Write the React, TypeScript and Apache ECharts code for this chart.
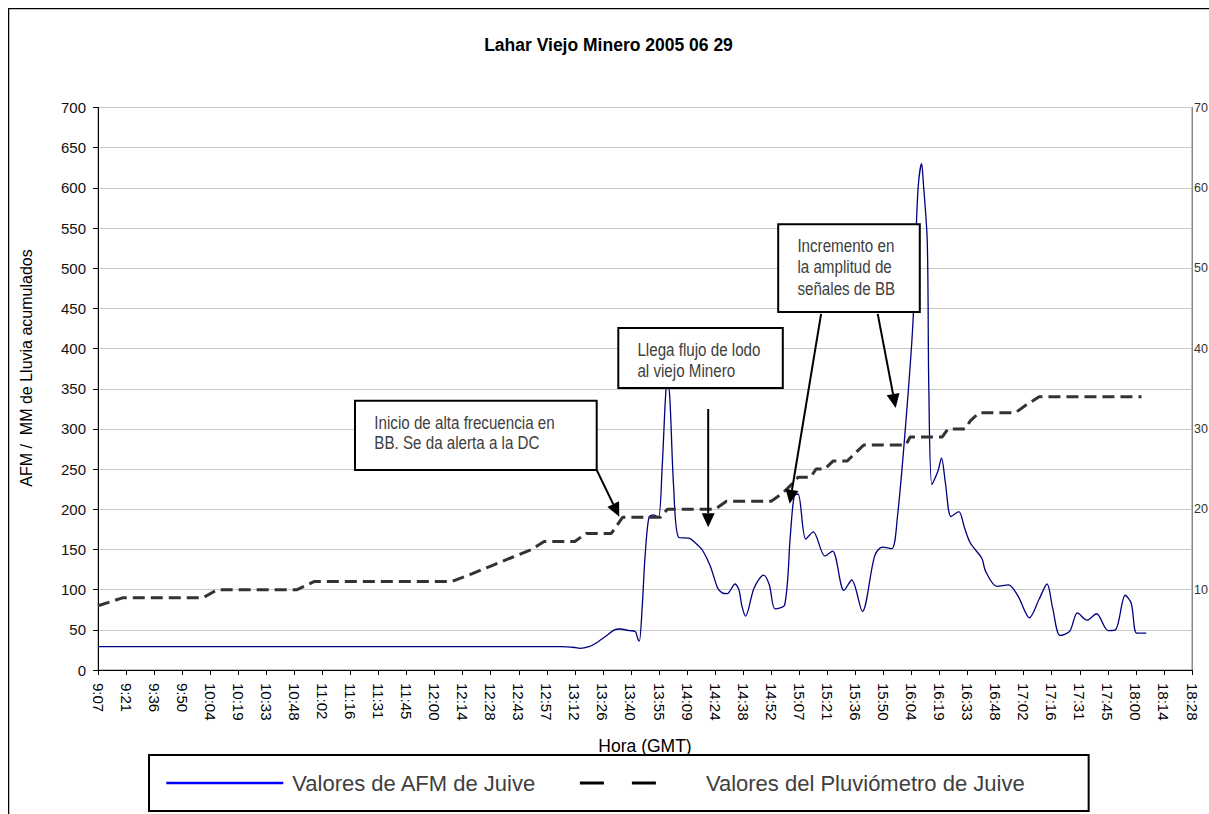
import React, { useEffect, useRef } from "react";
import * as echarts from "echarts";

// ---------- data ----------
const chartTitle = "Lahar Viejo Minero 2005 06 29";
const xAxisTitle = "Hora (GMT)";
const yAxisTitle = "AFM /  MM de Lluvia acumulados";
const afmName = "Valores de AFM de Juive";
const rainName = "Valores del Pluviómetro de Juive";

// tick labels of the time axis (one every 0.01 day = 14.4 min, starting 9:07)
const timeLabels = [
  "9:07", "9:21", "9:36", "9:50", "10:04", "10:19", "10:33", "10:48", "11:02", "11:16",
  "11:31", "11:45", "12:00", "12:14", "12:28", "12:43", "12:57", "13:12", "13:26", "13:40",
  "13:55", "14:09", "14:24", "14:38", "14:52", "15:07", "15:21", "15:36", "15:50", "16:04",
  "16:19", "16:33", "16:48", "17:02", "17:16", "17:31", "17:45", "18:00", "18:14", "18:28",
];
const TICK_MINUTES = 14.4;

// AFM values (minutes after 9:07)
const afmMinutes = [
  0, 237.6, 244.8, 247.4, 252.0, 255.3, 260.6, 265.1, 267.8, 272.9,
  275.8, 277.2, 277.9, 279.4, 280.8, 282.8, 285.1, 287.7, 289.6, 291.6,
  292.6, 293.6, 295.5, 298.1, 303.4, 306.7, 310.3, 314.2, 318.1, 320.4,
  323.0, 327.0, 329.0, 330.5, 332.4, 336.8, 341.7, 344.6, 347.6, 352.5,
  355.4, 357.4, 359.4, 363.3, 367.2, 373.1, 377.1, 382.9, 386.9, 392.4,
  398.7, 402.6, 407.5, 410.4, 414.4, 418.3, 420.3, 421.3, 422.8, 423.6,
  425.7, 426.5, 428.1, 431.1, 433.0, 435.0, 437.9, 441.9, 444.8, 447.8,
  453.7, 455.6, 461.5, 467.4, 472.3, 478.2, 483.1, 487.2, 490.0, 493.9,
  498.8, 502.8, 507.7, 512.6, 518.5, 522.4, 527.3, 530.4, 533.2, 538.1,
];
const afmValues = [
  29, 29, 28, 27, 29, 33, 42, 50, 51, 49,
  48, 38, 36, 80, 140, 190, 193, 190, 252, 350,
  355, 336, 228, 165, 164, 158, 149, 130, 102, 96,
  95, 107, 100, 80, 67, 102, 118, 106, 76, 81,
  167, 217, 219, 163, 172, 142, 148, 99, 112, 73,
  142, 153, 151, 191, 299, 430, 566, 609, 630, 609,
  533, 350, 231, 247, 264, 233, 191, 197, 177, 158,
  139, 123, 104, 106, 92, 65, 88, 107, 78, 43,
  48, 71, 62, 70, 49, 50, 93, 83, 46, 46,
];

// accumulated rain (mm), minutes after 9:07
const rainMinutes = [
  0, 13.0, 54.0, 61.3, 102.2, 110.9, 181.4, 192.2, 202.3, 212.4,
  222.5, 229.0, 244.8, 250.6, 263.5, 266.4, 269.3, 288.7, 292.3, 316.8,
  322.6, 345.6, 351.4, 355.7, 359.4, 365.8, 368.6, 373.0, 377.3, 384.5,
  388.8, 393.1, 414.7, 416.9, 433.4, 436.3, 445.0, 447.8, 452.2, 470.9,
  476.6, 483.1, 535.7,
];
const rainValues = [
  8, 9, 9, 10, 10, 11, 11, 12, 13, 14,
  15, 16, 16, 17, 17, 18, 19, 19, 20, 20,
  21, 21, 22, 23, 24, 24, 25, 25, 26, 26,
  27, 28, 28, 29, 29, 30, 30, 31, 32, 32,
  33, 34, 34,
];

const notes = [
  { lines: ["Inicio de alta frecuencia en", "BB. Se da alerta a la DC"] },
  { lines: ["Llega flujo de lodo", "al viejo Minero"] },
  { lines: ["Incremento en", "la amplitud de", "señales de BB"] },
];

// ---------- styling ----------
const FONT = "'Liberation Sans', Arial, sans-serif";

function arrow(x1: number, y1: number, x2: number, y2: number) {
  const len = 14;
  const hw = 6.5;
  const dx = x2 - x1;
  const dy = y2 - y1;
  const L = Math.hypot(dx, dy);
  const ux = dx / L;
  const uy = dy / L;
  const bx = x2 - ux * len;
  const by = y2 - uy * len;
  return [
    { type: "line", shape: { x1, y1, x2: bx, y2: by }, style: { stroke: "#000", lineWidth: 2 }, z: 20 },
    {
      type: "polygon",
      shape: { points: [[x2, y2], [bx - uy * hw, by + ux * hw], [bx + uy * hw, by - ux * hw]] },
      style: { fill: "#000" },
      z: 20,
    },
  ];
}

function noteBox(x: number, y: number, w: number, h: number, tx: number, ty: number[], lines: string[]) {
  const els: any[] = [
    { type: "rect", shape: { x, y, width: w, height: h }, style: { fill: "#fff", stroke: "#000", lineWidth: 2 }, z: 20 },
  ];
  lines.forEach((t, i) => {
    els.push({
      type: "text",
      x: tx,
      y: ty[i],
      scaleX: 0.82,
      style: { text: t, fill: "#404040", fontSize: 18.5, fontFamily: FONT, verticalAlign: "middle", align: "left" },
      z: 21,
    });
  });
  return els;
}

export default function App() {
  const ref = useRef<HTMLDivElement>(null);
  useEffect(() => {
    const chart = echarts.init(ref.current!, null, { renderer: "svg" });
    const option: any = {
      animation: false,
      backgroundColor: "#fff",
      textStyle: { fontFamily: FONT },
      title: {
        text: chartTitle,
        left: "center",
        top: 23,
        textStyle: { fontSize: 17.5, fontWeight: "bold", color: "#000", fontFamily: FONT },
      },
      grid: {
        left: 90,
        right: 17,
        top: 99.5,
        bottom: 144,
        show: true,
        borderColor: "#888",
        borderWidth: 1,
        outerBoundsMode: "none",
        containLabel: false,
      },
      legend: {
        left: 141,
        top: 747,
        orient: "horizontal",
        borderColor: "#000",
        borderWidth: 2,
        borderRadius: 0,
        padding: [17, 64, 17, 16],
        itemWidth: 117,
        itemHeight: 10,
        itemGap: 42,
        itemStyle: { opacity: 0 },
        textStyle: { fontSize: 22, color: "#404040", fontFamily: FONT, padding: [0, 0, 0, 4] },
        data: [
          { name: afmName, itemStyle: { opacity: 0 }, lineStyle: { color: "#0000ff", width: 2.5, type: "solid" } },
          { name: rainName, itemStyle: { opacity: 0 }, lineStyle: { color: "#000", width: 3, type: [24, 28, 24, 100] } },
        ],
      },
      xAxis: {
        type: "value",
        min: 0,
        max: TICK_MINUTES * (timeLabels.length - 1),
        interval: TICK_MINUTES,
        name: xAxisTitle,
        nameLocation: "middle",
        nameGap: 67,
        nameTextStyle: { fontSize: 17.5, color: "#000", fontFamily: FONT },
        axisLine: { lineStyle: { color: "#000", width: 1 } },
        axisTick: { show: true, length: 5, lineStyle: { color: "#000" } },
        splitLine: { show: false },
        axisLabel: {
          rotate: -90,
          margin: 13,
          fontSize: 15,
          color: "#000",
          fontFamily: FONT,
          showMinLabel: true,
          showMaxLabel: true,
          formatter: (v: number) => timeLabels[Math.round(v / TICK_MINUTES)] ?? "",
        },
      },
      yAxis: [
        {
          type: "value",
          min: 0,
          max: 700,
          interval: 50,
          position: "left",
          axisLine: { show: true, lineStyle: { color: "#000" } },
          axisTick: { show: true, length: 5, lineStyle: { color: "#000" } },
          splitLine: { show: true, lineStyle: { color: "#c8c8c8", width: 1 } },
          axisLabel: { fontSize: 15, color: "#111", margin: 12, fontFamily: FONT },
        },
        {
          type: "value",
          min: 0,
          max: 70,
          interval: 10,
          position: "right",
          axisLine: { show: true, lineStyle: { color: "#888" } },
          axisTick: { show: false },
          splitLine: { show: false },
          axisLabel: { fontSize: 12.5, color: "#333", margin: 2, showMinLabel: false, fontFamily: FONT },
        },
      ],
      series: [
        {
          name: afmName,
          type: "line",
          yAxisIndex: 0,
          data: afmMinutes.map((m, i) => [m, afmValues[i]]),
          smooth: 0.3,
          symbol: "none",
          showSymbol: false,
          lineStyle: { color: "#000080", width: 1.3 },
          itemStyle: { color: "#000080" },
          z: 2,
        },
        {
          name: rainName,
          type: "line",
          yAxisIndex: 1,
          data: rainMinutes.map((m, i) => [m, rainValues[i]]),
          smooth: false,
          symbol: "none",
          showSymbol: false,
          lineStyle: { color: "#333", width: 3, type: [12, 6] },
          itemStyle: { color: "#333" },
          z: 3,
        },
      ],
      graphic: [
        { type: "line", shape: { x1: 0, y1: 0.5, x2: 1201, y2: 0.5 }, style: { stroke: "#000", lineWidth: 1.5 } },
        { type: "line", shape: { x1: 0.5, y1: 0, x2: 0.5, y2: 806 }, style: { stroke: "#000", lineWidth: 1.5 } },
        {
          type: "text",
          x: 18,
          y: 360,
          rotation: Math.PI / 2,
          style: { text: yAxisTitle, fill: "#000", fontSize: 16, fontFamily: FONT, align: "center", verticalAlign: "middle" },
        },
        ...noteBox(347, 392.7, 241.7, 69.3, 366.3, [414.7, 435.3], notes[0].lines),
        ...noteBox(610.3, 320.1, 164.5, 59.9, 629.4, [341.6, 362.7], notes[1].lines),
        ...noteBox(770.2, 216.3, 141.6, 87.7, 789.4, [238.1, 258.8, 280.6], notes[2].lines),
        ...arrow(588.7, 462, 611.3, 508.7),
        ...arrow(700.2, 401, 700.2, 519.2),
        ...arrow(813.1, 305.9, 781.7, 495.8),
        ...arrow(869.7, 305.9, 887.7, 399.9),
      ],
    };
    chart.setOption(option);
    return () => chart.dispose();
  }, []);
  return <div ref={ref} style={{ position: "absolute", left: 8, top: 8, width: 1201, height: 806 }} />;
}
